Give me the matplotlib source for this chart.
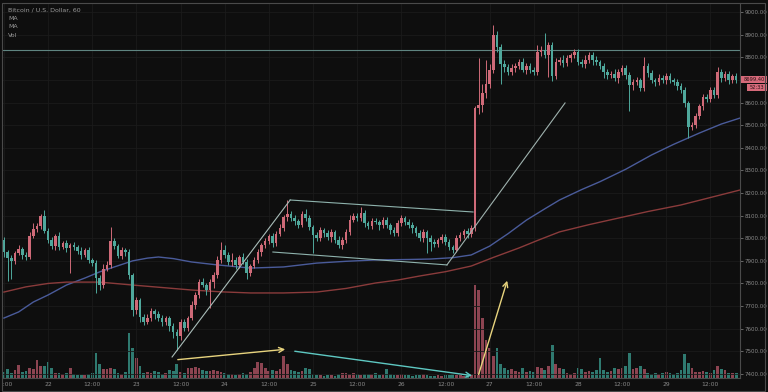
import matplotlib
matplotlib.use("Agg")
from matplotlib import pyplot as plt
from matplotlib.transforms import Bbox, TransformedBbox
from matplotlib.patches import Rectangle
import numpy as np

# hourly candles, hour offsets from 22nd 00:00
hours = np.arange(-12, 188)

first_open = 7990
closes = [
    7939, 7913, 7900, 7935, 7952, 7926, 7917, 8010, 8041, 8054, 8098, 8032,
    7992, 7966, 8010, 7961, 7979, 7957, 7970, 7961, 7944, 7926, 7948, 7904,
    7890, 7824, 7793, 7864, 7882, 7988, 7966, 7921, 7948, 7939, 7838, 7683,
    7727, 7652, 7630, 7647, 7678, 7665, 7647, 7630, 7647, 7612, 7586, 7568,
    7630, 7603, 7647, 7705, 7749, 7806, 7793, 7771, 7806, 7838, 7904, 7948,
    7926, 7895, 7904, 7882, 7917, 7895, 7846, 7877, 7904, 7939, 7970, 7988,
    8010, 7979, 8019, 8045, 8094, 8107, 8089, 8076, 8058, 8107, 8089, 8050,
    8014, 8001, 8036, 8023, 8005, 8027, 7992, 7970, 7992, 8027, 8081, 8098,
    8089, 8112, 8067, 8054, 8076, 8072, 8058, 8081, 8058, 8036, 8023, 8067,
    8089, 8072, 8058, 8045, 8023, 8001, 8027, 8001, 7983, 7974, 7992, 8005,
    7983, 7961, 7948, 8001, 8014, 8032, 8019, 8045, 8576, 8589, 8642, 8682,
    8744, 8898, 8845, 8770, 8757, 8735, 8752, 8761, 8779, 8744, 8761, 8744,
    8735, 8823, 8832, 8810, 8854, 8717, 8779, 8788, 8775, 8797, 8810, 8823,
    8779, 8770, 8788, 8810, 8788, 8779, 8761, 8735, 8721, 8726, 8708, 8735,
    8752, 8721, 8677, 8691, 8699, 8664, 8761, 8730, 8699, 8691, 8708, 8699,
    8717, 8699, 8691, 8673, 8655, 8598, 8492, 8501, 8540, 8584, 8624, 8615,
    8655, 8633, 8735, 8708, 8726, 8699, 8717, 8699,
]
wick_up = [
    15, 10, 12, 8, 20, 10, 14, 18, 26, 12, 10, 27,
    12, 15, 10, 18, 8, 14, 10, 12, 9, 15, 10, 12,
    10, 12, 15, 20, 18, 62, 12, 10, 15, 8, 12, 10,
    15, 10, 12, 18, 14, 10, 12, 15, 10, 8, 12, 14,
    12, 15, 10, 18, 14, 12, 20, 10, 15, 12, 18, 35,
    20, 15, 30, 12, 10, 18, 15, 10, 12, 14, 10, 12,
    10, 15, 12, 18, 10, 62, 14, 12, 10, 15, 20, 12,
    10, 12, 15, 10, 14, 12, 10, 18, 12, 15, 20, 12,
    15, 25, 12, 10, 14, 12, 10, 15, 12, 10, 14, 12,
    12, 10, 15, 12, 10, 14, 12, 10, 15, 12, 10, 14,
    12, 15, 10, 14, 12, 10, 15, 12, 10, 208, 40, 106,
    25, 44, 20, 15, 18, 12, 20, 15, 14, 18, 12, 15,
    12, 30, 20, 75, 15, 12, 18, 14, 20, 12, 10, 15,
    15, 12, 20, 14, 12, 18, 10, 15, 12, 14, 20, 12,
    14, 12, 15, 12, 15, 10, 40, 15, 12, 10, 18, 12,
    12, 15, 10, 14, 12, 15, 10, 12, 14, 10, 15, 12,
    15, 12, 20, 14, 12, 15, 10, 12,
]
wick_dn = [
    20, 100, 80, 15, 10, 18, 12, 10, 8, 14, 12, 10,
    15, 12, 20, 14, 10, 18, 110, 12, 15, 20, 10, 14,
    15, 66, 20, 12, 10, 15, 14, 10, 12, 18, 20, 25,
    18, 22, 15, 10, 14, 20, 12, 18, 15, 20, 25, 60,
    20, 15, 12, 10, 18, 14, 10, 20, 80, 25, 12, 15,
    15, 12, 18, 20, 14, 10, 25, 15, 10, 12, 18, 14,
    12, 18, 14, 10, 15, 20, 12, 18, 14, 10, 12, 15,
    80, 15, 12, 18, 14, 20, 12, 15, 18, 12, 14, 10,
    12, 14, 18, 15, 12, 10, 20, 14, 12, 18, 15, 12,
    15, 12, 14, 20, 12, 15, 18, 65, 40, 15, 12, 14,
    15, 12, 14, 10, 12, 15, 20, 12, 15, 25, 30, 20,
    20, 15, 20, 88, 20, 15, 12, 18, 14, 10, 20, 15,
    15, 12, 18, 15, 97, 20, 15, 12, 18, 14, 20, 12,
    12, 15, 18, 14, 20, 12, 15, 25, 18, 14, 12, 20,
    12, 15, 115, 20, 14, 12, 15, 18, 12, 20, 15, 12,
    15, 12, 14, 18, 12, 20, 49, 15, 12, 14, 18, 12,
    12, 15, 14, 18, 12, 15, 14, 12,
]
volume = [
    6, 9, 5, 8, 13, 6, 7, 10, 9, 18, 12, 12,
    16, 10, 5, 5, 4, 5, 10, 4, 3, 3, 3, 4,
    5, 25, 14, 9, 9, 10, 9, 5, 4, 6, 45, 30,
    20, 12, 5, 6, 5, 7, 6, 4, 5, 8, 7, 14,
    6, 5, 10, 10, 11, 10, 8, 7, 7, 8, 7, 6,
    5, 4, 4, 3, 4, 5, 4, 6, 10, 16, 15, 10,
    7, 8, 7, 9, 22, 14, 8, 7, 6, 7, 10, 9,
    4, 3, 3, 2, 3, 3, 2, 4, 5, 5, 4, 5,
    4, 3, 4, 4, 4, 5, 3, 4, 9, 4, 3, 3,
    4, 3, 3, 2, 3, 3, 4, 3, 2, 2, 3, 2,
    3, 3, 4, 3, 3, 2, 3, 4, 93, 88, 60, 38,
    30, 22, 30, 14, 10, 8, 9, 7, 6, 10, 6, 7,
    6, 11, 10, 8, 12, 33, 14, 10, 9, 5, 4, 5,
    10, 9, 6, 7, 6, 8, 20, 8, 6, 7, 10, 9,
    10, 12, 25, 9, 10, 12, 9, 5, 4, 5, 4, 5,
    6, 5, 4, 5, 8, 24, 15, 10, 6, 6, 7, 6,
    5, 8, 12, 9, 8, 5, 5, 5,
]

# moving averages sampled off the chart
ma_fast_t = [-12, -8, -4, 0, 5, 10, 14, 18, 23, 27, 30, 34, 39, 46, 55, 64, 73, 81, 89,
             98, 104, 110, 115, 120, 125, 130, 135, 139, 145, 150, 157, 164, 170, 177, 183, 188]
ma_fast = [7647, 7674, 7718, 7749, 7793, 7824, 7851, 7873, 7900, 7912, 7917, 7910, 7895,
           7882, 7868, 7873, 7890, 7898, 7904, 7906, 7908, 7914, 7926, 7965, 8020, 8080,
           8130, 8169, 8215, 8250, 8305, 8368, 8415, 8465, 8505, 8531]
ma_slow_t = [-12, -6, 0, 5, 14, 23, 31, 39, 47, 55, 64, 73, 81, 89, 95, 101, 108, 115,
             121, 128, 133, 139, 147, 155, 163, 172, 180, 188]
ma_slow = [7762, 7785, 7800, 7806, 7806, 7793, 7782, 7771, 7763, 7758, 7758, 7762, 7778,
           7802, 7815, 7833, 7852, 7877, 7915, 7957, 7990, 8028, 8060, 8089, 8118, 8147,
           8180, 8213]

# drawings: (hour, price) pairs
flag_pole = [(33.7, 7475), (65.8, 8169)]
flag_top = [(65.8, 8169), (115.5, 8116)]
flag_bottom = [(61.1, 7939), (108.4, 7882)]
breakout_line = [(108.4, 7882), (140.5, 8598)]
resistance = 8832
arrow_vol_up = [(34.5, 7462), (65.2, 7510)]
arrow_vol_down = [(66.3, 7502), (116.0, 7391)]
arrow_spike = [(116.8, 7386), (125.0, 7824)]

tick_hours = [-12, 0, 12, 24, 36, 48, 60, 72, 84, 96, 108, 120, 132, 144, 156, 168, 180]
tick_labels = ["12:00", "22", "12:00", "23", "12:00", "24", "12:00", "25", "12:00",
               "26", "12:00", "27", "12:00", "28", "12:00", "29", "12:00"]
# 8700 sits under the last-price tag, so it has no visible label
price_ticks = [7400, 7500, 7600, 7700, 7800, 7900, 8000, 8100, 8200, 8300, 8400, 8500,
               8600, 8700, 8800, 8900, 9000]
price_hidden = [8700]
last_price = "8699.40"
countdown = "52:33"

assert len(closes) == len(hours) == len(wick_up) == len(wick_dn) == len(volume)

BG = "#0e0e0e"
UP, DOWN = "#cf6a78", "#4fa89c"
VUP, VDOWN = "#8c4451", "#2f7a70"
GRID = "#1b1b1b"
TXT = "#8a8a8a"

W, H = 768, 392
fig = plt.figure(figsize=(W / 100, H / 100), dpi=100, facecolor=BG)
ax_l, ax_r, ax_b, ax_t = 3, 740, 378, 3
rect = [ax_l / W, (H - ax_b) / H, (ax_r - ax_l) / W, (ax_b - ax_t) / H]
axv = fig.add_axes(rect)
ax = fig.add_axes(rect, sharex=axv)
axv.set_facecolor(BG)
ax.patch.set_visible(False)

closes = np.array(closes, float)
opens = np.concatenate([[first_open], closes[:-1]])
highs = np.maximum(opens, closes) + np.array(wick_up)
lows = np.minimum(opens, closes) - np.array(wick_dn)
up = closes >= opens
colors = np.where(up, UP, DOWN)

# volume
axv.bar(hours, volume, width=0.75, color=np.where(up, VUP, VDOWN), linewidth=0)
axv.set_ylim(0, max(volume) * 4.05)
axv.set_yticks([])

# grid
for p in price_ticks:
    ax.axhline(p, color=GRID, lw=0.6, zorder=0)
for t in tick_hours:
    ax.axvline(t, color=GRID, lw=0.6, zorder=0)

# candles
ax.vlines(hours, lows, highs, colors=colors, lw=0.7, zorder=3)
body = np.maximum(np.abs(closes - opens), 3)
ax.bar(hours, body, bottom=np.minimum(opens, closes), width=0.7, color=colors, linewidth=0, zorder=4)

# moving averages
ax.plot(ma_fast_t, ma_fast, color="#4a5b9a", lw=1.0, zorder=2)
ax.plot(ma_slow_t, ma_slow, color="#8a3b3b", lw=1.0, zorder=2)

# drawings
ax.axhline(resistance, color="#5f8581", lw=0.8, zorder=2)
for seg, col in [(flag_pole, "#a9bdb9"), (flag_top, "#8fb3ad"), (flag_bottom, "#8fb3ad"),
                 (breakout_line, "#9fb2ae")]:
    xs, ys = zip(*seg)
    ax.plot(xs, ys, color=col, lw=0.8, zorder=5)
for seg, col in [(arrow_vol_up, "#e8d47e"), (arrow_vol_down, "#5ec8c2"), (arrow_spike, "#e8d47e")]:
    ax.annotate("", xy=seg[1], xytext=seg[0],
                arrowprops=dict(arrowstyle="->", color=col, lw=1.0, mutation_scale=9), zorder=6)

ax.set_xlim(-12.25, 188.05)
axv.set_xlim(-12.25, 188.05)
ax.set_ylim(7382, 9040)

# axes styling
for a in (ax, axv):
    for s in a.spines.values():
        s.set_visible(False)
ax.spines["right"].set_visible(True)
ax.spines["bottom"].set_visible(True)
ax.spines["right"].set_color("#4a4a4a")
ax.spines["bottom"].set_color("#4a4a4a")
ax.yaxis.tick_right()
ax.set_yticks(price_ticks)
ax.set_yticklabels(["" if p in price_hidden else f"{p:.2f}" for p in price_ticks])
ax.tick_params(axis="y", colors=TXT, labelsize=4.0, length=2, width=0.5, pad=1.5)
ax.set_xticks(tick_hours)
ax.set_xticklabels(tick_labels)
ax.tick_params(axis="x", colors=TXT, labelsize=4.3, length=0, pad=3)
axv.tick_params(axis="x", labelbottom=False, length=0)
clip = TransformedBbox(Bbox([[ax_l / W, 0], [ax_r / W, 1]]), fig.transFigure)
for lab in ax.get_xticklabels():
    lab.set_clip_box(clip)
    lab.set_clip_on(True)

# legend text
for i, s in enumerate(["Bitcoin / U.S. Dollar, 60", "MA", "MA", "Vol"]):
    fig.text(8 / W, 1 - (10 + 8.5 * i) / H, s, color="#9a9a9a", fontsize=4.5, va="center")

# last price tags
fig.patches.append(Rectangle((741 / W, 1 - 83 / H), 26 / W, 7.5 / H, transform=fig.transFigure,
                             facecolor="#d66a7a", edgecolor="none"))
fig.text(754 / W, 1 - 79.2 / H, last_price, color="#2a1014", fontsize=3.7, ha="center", va="center")
fig.patches.append(Rectangle((747 / W, 1 - 91 / H), 20 / W, 7.5 / H, transform=fig.transFigure,
                             facecolor="#d66a7a", edgecolor="none"))
fig.text(757 / W, 1 - 87.2 / H, countdown, color="#2a1014", fontsize=3.7, ha="center", va="center")

# outer frame
fig.patches.append(Rectangle((2 / W, 1.5 / H), 763 / W, 388 / H, transform=fig.transFigure,
                             facecolor="none", edgecolor="#4a4a4a", lw=0.8))

fig.savefig("out.png", dpi=100, facecolor=BG)
